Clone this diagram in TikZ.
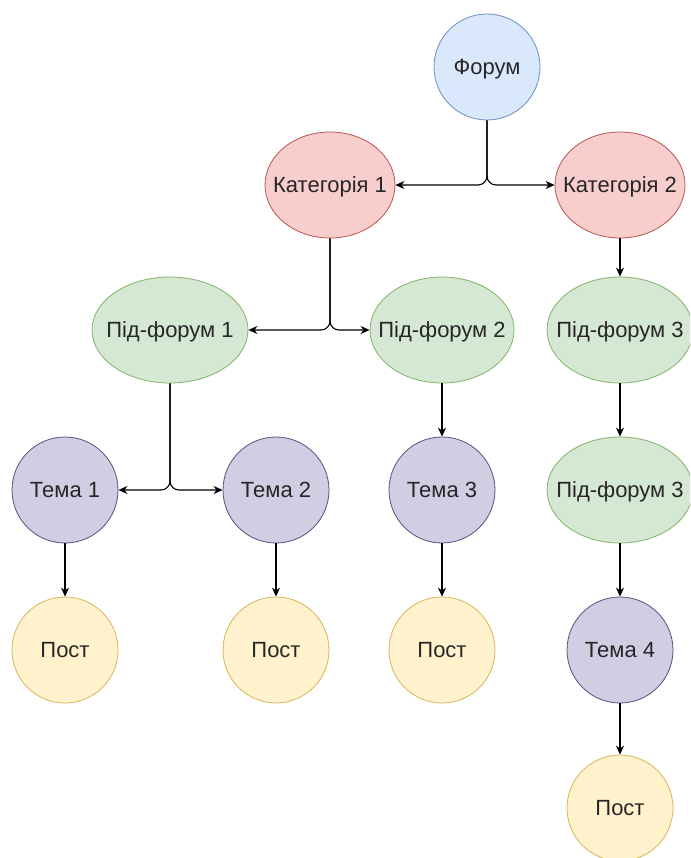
\documentclass[tikz,border=0pt]{standalone}
\usepackage{fontspec}
\setmainfont{Liberation Sans}
\usetikzlibrary{arrows.meta, shapes.geometric}
\definecolor{forumfill}{HTML}{DAE8FC}
\definecolor{forumline}{HTML}{6C8EBF}
\definecolor{catfill}{HTML}{F8CECC}
\definecolor{catline}{HTML}{B85450}
\definecolor{subfill}{HTML}{D5E8D4}
\definecolor{subline}{HTML}{82B366}
\definecolor{topicfill}{HTML}{D0CEE2}
\definecolor{topicline}{HTML}{56517E}
\definecolor{postfill}{HTML}{FFF2CC}
\definecolor{postline}{HTML}{D6B656}
\newcommand{\lbl}[1]{\makebox[0pt]{#1}}

\begin{document}
\begin{tikzpicture}[
    x=1pt, y=-1pt,
    every node/.style={font=\fontsize{22}{26}\selectfont, text=black!85, inner sep=0pt, text depth=0pt},
    forum/.style={circle, draw=forumline, fill=forumfill, thick, minimum size=106pt},
    cat/.style={ellipse, draw=catline, fill=catfill, thick, minimum width=130pt, minimum height=106pt},
    sub/.style={ellipse, draw=subline, fill=subfill, thick, minimum width=146pt, minimum height=106pt},
    topic/.style={circle, draw=topicline, fill=topicfill, thick, minimum size=106pt},
    post/.style={circle, draw=postline, fill=postfill, thick, minimum size=106pt},
    arrow/.style={-{Stealth[length=9pt, width=8pt]}, line width=1.1pt},
    split/.style={arrow, rounded corners=9pt}
]
\useasboundingbox[clip] (0,0) rectangle (690,858);

\node[forum] (forum) at (487, 67) {\lbl{Форум}};
\node[cat] (cat1) at (330, 185) {\lbl{Категорія 1}};
\node[cat] (cat2) at (620, 185) {\lbl{Категорія 2}};
\draw[split] (forum.south) |- (cat1.east);
\draw[split] (forum.south) |- (cat2.west);

\node[sub, minimum width=156pt] (sub1) at (170, 330) {\lbl{Під-форум 1}};
\node[sub, minimum width=144pt] (sub2) at (442, 330) {\lbl{Під-форум 2}};
\node[sub] (sub3) at (620, 330) {\lbl{Під-форум 3}};
\node[sub] (sub3b) at (620, 490) {\lbl{Під-форум 3}};
\draw[split] (cat1.south) |- (sub1.east);
\draw[split] (cat1.south) |- (sub2.west);
\draw[arrow] (cat2) -- (sub3);
\draw[arrow] (sub3) -- (sub3b);

\node[topic] (topic1) at (65, 490) {\lbl{Тема 1}};
\node[topic] (topic2) at (276, 490) {\lbl{Тема 2}};
\node[topic] (topic3) at (442, 490) {\lbl{Тема 3}};
\node[topic] (topic4) at (620, 650) {\lbl{Тема 4}};
\draw[split] (sub1.south) |- (topic1.east);
\draw[split] (sub1.south) |- (topic2.west);
\draw[arrow] (sub2) -- (topic3);
\draw[arrow] (sub3b) -- (topic4);

\node[post] (post1) at (65, 650) {\lbl{Пост}};
\node[post] (post2) at (276, 650) {\lbl{Пост}};
\node[post] (post3) at (442, 650) {\lbl{Пост}};
\node[post] (post4) at (620, 808) {\lbl{Пост}};
\draw[arrow] (topic1) -- (post1);
\draw[arrow] (topic2) -- (post2);
\draw[arrow] (topic3) -- (post3);
\draw[arrow] (topic4) -- (post4);

\end{tikzpicture}
\end{document}
